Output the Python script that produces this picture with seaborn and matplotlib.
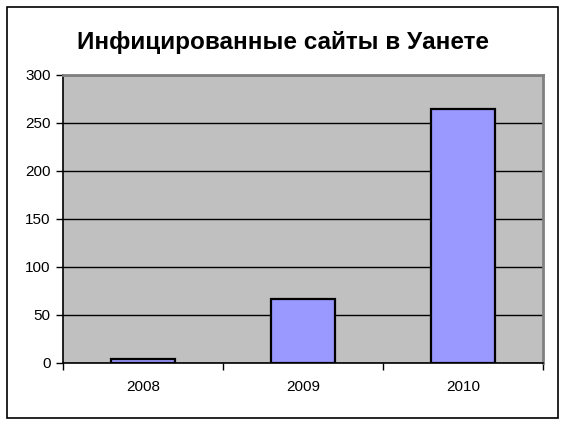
import matplotlib
matplotlib.use("Agg")
import matplotlib.pyplot as plt
import seaborn as sns
import pandas as pd
from matplotlib.patches import Rectangle

years = ["2008", "2009", "2010"]
infected = [4, 67, 265]
title = "Инфицированные сайты в Уанете"
yticks = [0, 50, 100, 150, 200, 250, 300]

sns.set_theme(style="white")
plt.rcParams['font.family'] = ['Liberation Sans', 'DejaVu Sans']

W, H = 566, 425
fig = plt.figure(figsize=(W / 100, H / 100), dpi=100)
fig.patch.set_facecolor("white")
fig.patches.append(Rectangle((7 / W, 1 - 418 / H), 551 / W, 411 / H,
                             transform=fig.transFigure, fill=False,
                             edgecolor="black", linewidth=1.2, zorder=0))

ax = fig.add_axes([63 / W, 1 - 363 / H, 480 / W, 288 / H])
df = pd.DataFrame({"year": years, "value": infected})
sns.barplot(data=df, x="year", y="value", ax=ax, color="#9999FF",
            saturation=1, width=0.4, edgecolor="black", linewidth=1.6, zorder=3)
ax.set_facecolor("#C0C0C0")
ax.set_xlim(-0.5, 2.5)
ax.set_ylim(0, 300)
ax.set_yticks(yticks)
ax.set_yticklabels([str(t) for t in yticks])
ax.yaxis.grid(True, color="black", linewidth=1.0, zorder=1)
ax.set_axisbelow(True)
ax.set_xlabel("")
ax.set_ylabel("")

ax.set_xticks([-0.5, 0.5, 1.5, 2.5], minor=True)
ax.tick_params(axis="x", which="major", length=0, pad=12, labelsize=11, colors="black")
ax.tick_params(axis="x", which="minor", length=5, width=1, color="black", direction="out")
ax.tick_params(axis="y", length=5, width=1, color="black", direction="out", labelsize=11, labelcolor="black", pad=4)
ax.tick_params(bottom=True, left=True)
ax.xaxis.set_tick_params(which="minor", bottom=True)

for s in ["top", "right"]:
    ax.spines[s].set_color("#808080")
    ax.spines[s].set_linewidth(2)
for s in ["left", "bottom"]:
    ax.spines[s].set_color("black")
    ax.spines[s].set_linewidth(1.2)

fig.text(283 / W, 1 - 42 / H, title, ha="center", va="center",
         fontsize=17.5, fontweight="bold", color="black")

fig.savefig("out.png", dpi=100)
